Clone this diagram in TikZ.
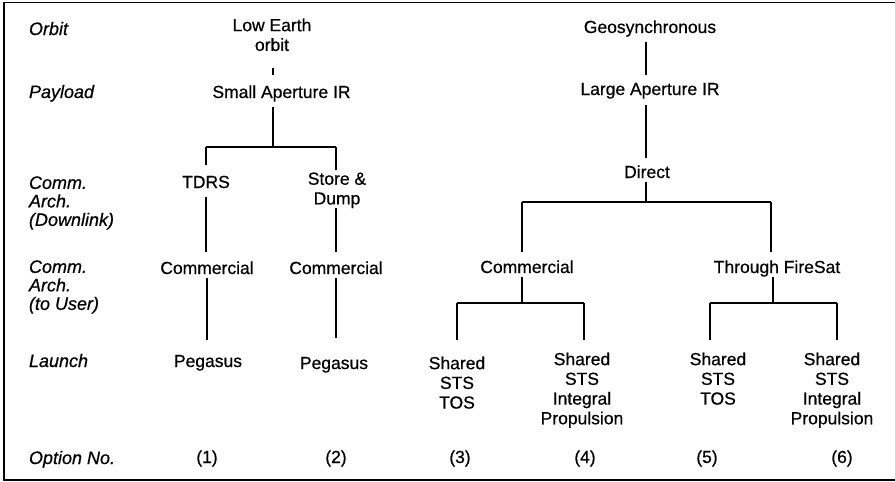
\documentclass[tikz,border=0pt]{standalone}
\usepackage{fontspec}
\setmainfont{Liberation Sans}[FakeBold=0.6,
  ItalicFeatures={FakeBold=0.6}]
\begin{document}
\begin{tikzpicture}[x=1pt,y=-1pt,
  every node/.style={inner sep=0pt,outer sep=0pt},
  opt/.style={font=\fontsize{17.5}{19.7}\selectfont,align=center},
  lbl/.style={font=\fontsize{18}{18.5}\selectfont\itshape,align=left},
  edge/.style={line width=1.3pt},
  frame/.style={line width=1.5pt}]
\useasboundingbox (0,0) rectangle (895,482);

% outer frame (open on the right)
\draw[frame] (895,2.5) -- (4,2.5) -- (4,480) -- (895,480);

% row labels
\node[lbl,anchor=base west] (rOrbit) at (29,35) {Orbit};
\node[lbl,anchor=base west] (rPayload) at (29,98) {Payload};
\node[lbl,anchor=north west] (rDown) at (29,176.3) {Comm.\\Arch.\\(Downlink)};
\node[lbl,anchor=north west] (rUser) at (29,260.3) {Comm.\\Arch.\\(to User)};
\node[lbl,anchor=base west] (rLaunch) at (29,367) {Launch};
\node[lbl,anchor=base west] (rOption) at (29,464) {Option No.};

% low earth orbit branch
\node[opt,anchor=north] (leo) at (272,18.5) {Low Earth\\orbit};
\node[opt,anchor=base] (sap) at (281.5,98) {Small Aperture IR};
\node[opt,anchor=base] (tdrs) at (206,188) {TDRS};
\node[opt,anchor=north] (store) at (337,172.5) {Store \&\\Dump};
\node[opt,anchor=base] (com1) at (207,274) {Commercial};
\node[opt,anchor=base] (com2) at (336,274) {Commercial};
\node[opt,anchor=base] (peg1) at (208,367) {Pegasus};
\node[opt,anchor=base] (peg2) at (334,369) {Pegasus};

% geosynchronous branch
\node[opt,anchor=base] (geo) at (650,33) {Geosynchronous};
\node[opt,anchor=base] (lap) at (650,95) {Large Aperture IR};
\node[opt,anchor=base] (direct) at (647,178) {Direct};
\node[opt,anchor=base] (com3) at (527,273) {Commercial};
\node[opt,anchor=base] (fire) at (777,273) {Through FireSat};
\node[opt,anchor=north] (l3) at (457,356.5) {Shared\\STS\\TOS};
\node[opt,anchor=north] (l4) at (582,352.5) {Shared\\STS\\Integral\\Propulsion};
\node[opt,anchor=north] (l5) at (718,352.5) {Shared\\STS\\TOS};
\node[opt,anchor=north] (l6) at (832,352.5) {Shared\\STS\\Integral\\Propulsion};

% option numbers
\node[opt,anchor=base] (o1) at (207,463) {(1)};
\node[opt,anchor=base] (o2) at (336,463) {(2)};
\node[opt,anchor=base] (o3) at (460,463) {(3)};
\node[opt,anchor=base] (o4) at (585,463) {(4)};
\node[opt,anchor=base] (o5) at (707,463) {(5)};
\node[opt,anchor=base] (o6) at (842,463) {(6)};

% junctions
\coordinate (j1) at (273,147);
\coordinate (j1L) at (206,147);
\coordinate (j1R) at (336,147);
\coordinate (j2) at (646,202);
\coordinate (j2L) at (522,202);
\coordinate (j2R) at (771,202);
\coordinate (j3) at (522,303);
\coordinate (j3L) at (457,303);
\coordinate (j3R) at (584,303);
\coordinate (j4) at (773,303);
\coordinate (j4L) at (710,303);
\coordinate (j4R) at (837,303);

% connectors, low earth orbit
\draw[edge,shorten <=17pt,shorten >=10.5pt] (j1 |- leo.south) -- (j1 |- sap.north);
\draw[edge,shorten <=5.3pt] (j1 |- sap.south) -- (j1);
\draw[edge] (j1L) -- (j1R);
\draw[edge,shorten >=10.5pt] (j1L) -- (j1L |- tdrs.north);
\draw[edge,shorten >=2.5pt] (j1R) -- (j1R |- store.north);
\draw[edge,shorten <=9pt,shorten >=9.5pt] (tdrs.south) -- (tdrs.south |- com1.north);
\draw[edge,shorten <=0.4pt,shorten >=9.5pt] (com2.south |- store.south) -- (com2.north);
\draw[edge,shorten <=4pt,shorten >=14.5pt] (com1.south) -- (com1.south |- peg1.north);
\draw[edge,shorten <=4pt,shorten >=18.5pt] (com2.south) -- (com2.south |- peg2.north);

% connectors, geosynchronous
\draw[edge,shorten <=5.3pt,shorten >=7.5pt] (j2 |- geo.south) -- (j2 |- lap.north);
\draw[edge,shorten <=6.3pt,shorten >=7.5pt] (j2 |- lap.south) -- (j2 |- direct.north);
\draw[edge,shorten <=4pt] (j2 |- direct.south) -- (j2);
\draw[edge] (j2L) -- (j2R);
\draw[edge,shorten >=8.5pt] (j2L) -- (j2L |- com3.north);
\draw[edge,shorten >=8.5pt] (j2R) -- (j2R |- fire.north);
\draw[edge,shorten <=4pt] (j3 |- com3.south) -- (j3);
\draw[edge] (j3L) -- (j3R);
\draw[edge,shorten >=16.5pt] (j3L) -- (j3L |- l3.north);
\draw[edge,shorten >=12.5pt] (j3R) -- (j3R |- l4.north);
\draw[edge,shorten <=0.3pt] (j4 |- fire.south) -- (j4);
\draw[edge] (j4L) -- (j4R);
\draw[edge,shorten >=12.5pt] (j4L) -- (j4L |- l5.north);
\draw[edge,shorten >=12.5pt] (j4R) -- (j4R |- l6.north);
\end{tikzpicture}
\end{document}
